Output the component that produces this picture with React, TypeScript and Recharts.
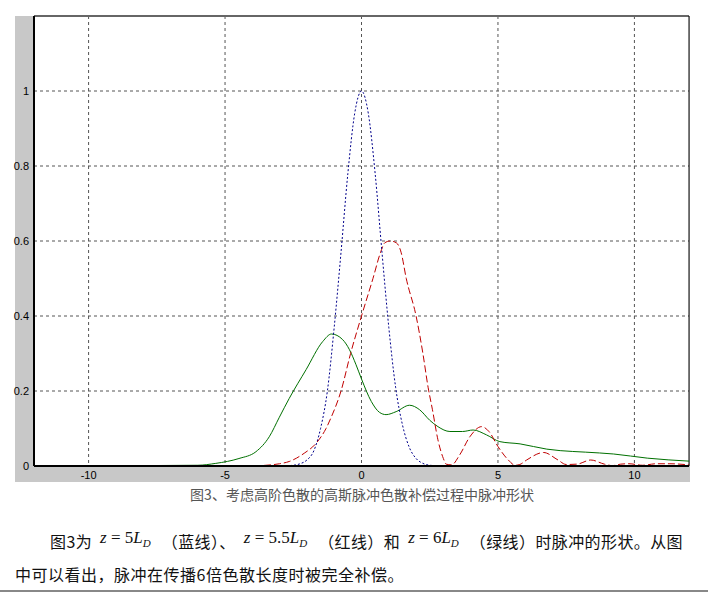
import { CartesianGrid, Line, LineChart, ReferenceLine, XAxis, YAxis } from "recharts";

// z = 5 L_D, blue dotted
const blueX = [-12, -3, -2.5, -2.25, -2, -1.75, -1.5, -1.25, -1, -0.75, -0.5, -0.25, 0, 0.25, 0.5, 0.75, 1, 1.25, 1.5, 1.75, 2, 2.25, 2.5, 3, 12];
const blueY = [0, 0, 0.002, 0.006, 0.016, 0.04, 0.1, 0.2, 0.37, 0.57, 0.78, 0.94, 1.0, 0.94, 0.78, 0.57, 0.37, 0.21, 0.11, 0.05, 0.02, 0.007, 0.002, 0, 0];

// z = 5.5 L_D, red dashed
const redX = [-12, -4, -3.5, -3, -2.65, -2.1, -1.67, -1.3, -1.11, -0.75, -0.4, 0, 0.42, 0.7, 0.85, 1.05, 1.28, 1.45, 1.64, 2.0, 2.25, 2.44, 2.6, 2.8, 3.0, 3.1, 3.3, 3.6, 3.97, 4.4, 4.67, 5.0, 5.38, 5.63, 5.8, 6.05, 6.67, 7.2, 7.5, 7.9, 8.4, 8.9, 9.2, 9.5, 9.8, 10.3, 10.8, 11.3, 12];
const redY = [0, 0, 0.002, 0.006, 0.012, 0.034, 0.06, 0.1, 0.13, 0.2, 0.3, 0.4, 0.5, 0.57, 0.595, 0.6, 0.595, 0.57, 0.5, 0.4, 0.3, 0.21, 0.15, 0.07, 0.02, 0.005, 0.003, 0.03, 0.078, 0.105, 0.092, 0.052, 0.016, 0.002, 0.004, 0.016, 0.036, 0.016, 0.004, 0.005, 0.016, 0.005, 0.001, 0.005, 0.006, 0.002, 0.006, 0.006, 0.003];

// z = 6 L_D, green solid
const greenX = [-12, -6, -5.34, -4.49, -3.87, -3.38, -3.01, -2.65, -2.03, -1.42, -1.1, -0.69, -0.44, -0.2, 0, 0.36, 0.66, 0.9, 1.27, 1.76, 2.13, 2.5, 2.8, 3.24, 3.7, 4.09, 4.58, 5.07, 5.81, 6.79, 7.28, 8.2, 9.24, 10.47, 12];
const greenY = [0, 0.002, 0.007, 0.02, 0.038, 0.078, 0.13, 0.18, 0.257, 0.332, 0.352, 0.337, 0.31, 0.27, 0.232, 0.172, 0.143, 0.137, 0.145, 0.162, 0.15, 0.122, 0.105, 0.092, 0.092, 0.096, 0.083, 0.065, 0.059, 0.045, 0.041, 0.037, 0.032, 0.021, 0.013];

const xTicks = [-10, -5, 0, 5, 10];
const yTicks = [0, 0.2, 0.4, 0.6, 0.8, 1];

const caption = "图3、考虑高阶色散的高斯脉冲色散补偿过程中脉冲形状";

function toPoints(xs: number[], ys: number[]) {
  return xs.map((x, i) => ({ x, y: ys[i] }));
}

const blueData = toPoints(blueX, blueY);
const redData = toPoints(redX, redY);
const greenData = toPoints(greenX, greenY);

const cjk = '"Noto Sans CJK SC", sans-serif';
const serif = '"Liberation Serif", serif';

function Zld({ n }: { n: string }) {
  return (
    <span style={{ fontFamily: serif, fontSize: 17, position: "relative", top: -5, margin: "0 11px 0 8px", letterSpacing: 0 }}>
      <i>z</i> = {n}
      <i>L</i>
      <sub style={{ fontSize: 11, fontStyle: "italic" }}>D</sub>
    </span>
  );
}

export default function App() {
  return (
    <div style={{ position: "absolute", left: 0, top: 0, width: 708, height: 594, background: "#fff", overflow: "hidden" }}>
      <div style={{ position: "absolute", left: 15, top: 16, width: 675, height: 466, background: "#c8c8c8" }} />
      <div style={{ position: "absolute", left: 0, top: 0 }}>
        <LineChart width={700} height={490} margin={{ top: 16, right: 11, left: 0, bottom: 0 }}>
          <CartesianGrid fill="#fff" stroke="#555" strokeDasharray="3 3" horizontalValues={[0.2, 0.4, 0.6, 0.8, 1]} verticalValues={xTicks} />
          <XAxis
            type="number"
            dataKey="x"
            domain={[-12, 12]}
            ticks={xTicks}
            allowDataOverflow
            height={24}
            tickSize={0}
            tickMargin={5}
            axisLine={{ stroke: "#000", strokeWidth: 2 }}
            tick={{ fill: "#000", fontSize: 11, fontFamily: '"Liberation Sans", Arial, sans-serif' }}
          />
          <YAxis
            type="number"
            dataKey="y"
            domain={[0, 1.2]}
            ticks={yTicks}
            allowDataOverflow
            width={34}
            tickSize={0}
            tickMargin={5}
            axisLine={{ stroke: "#000", strokeWidth: 2 }}
            tick={{ fill: "#000", fontSize: 11, fontFamily: '"Liberation Sans", Arial, sans-serif' }}
          />
          <ReferenceLine y={1.2} stroke="#666" strokeWidth={2} />
          <ReferenceLine x={12} stroke="#000" strokeWidth={1} />
          <Line data={greenData} dataKey="y" type="monotone" stroke="#007000" strokeWidth={1} dot={false} isAnimationActive={false} />
          <Line data={redData} dataKey="y" type="monotone" stroke="#c00000" strokeWidth={1} strokeDasharray="7 3" dot={false} isAnimationActive={false} />
          <Line data={blueData} dataKey="y" type="monotone" stroke="#00008b" strokeWidth={1} strokeDasharray="2 2" dot={false} isAnimationActive={false} />
        </LineChart>
      </div>
      <div style={{ position: "absolute", left: 0, width: 724, top: 484, textAlign: "center", fontFamily: cjk, fontSize: 14, color: "#555" }}>
        {caption}
      </div>
      <div style={{ position: "absolute", left: 50, top: 529, whiteSpace: "nowrap", fontFamily: cjk, fontSize: 16, letterSpacing: 0.4, color: "#111" }}>
        图3为<Zld n="5" />（蓝线）、<Zld n="5.5" />（红线）和<Zld n="6" />（绿线）时脉冲的形状。从图
      </div>
      <div style={{ position: "absolute", left: 15, top: 562, whiteSpace: "nowrap", fontFamily: cjk, fontSize: 16, letterSpacing: 0.5, color: "#111" }}>
        中可以看出，脉冲在传播6倍色散长度时被完全补偿。
      </div>
      <div style={{ position: "absolute", left: 0, top: 590, width: 708, height: 2, background: "#888" }} />
    </div>
  );
}
